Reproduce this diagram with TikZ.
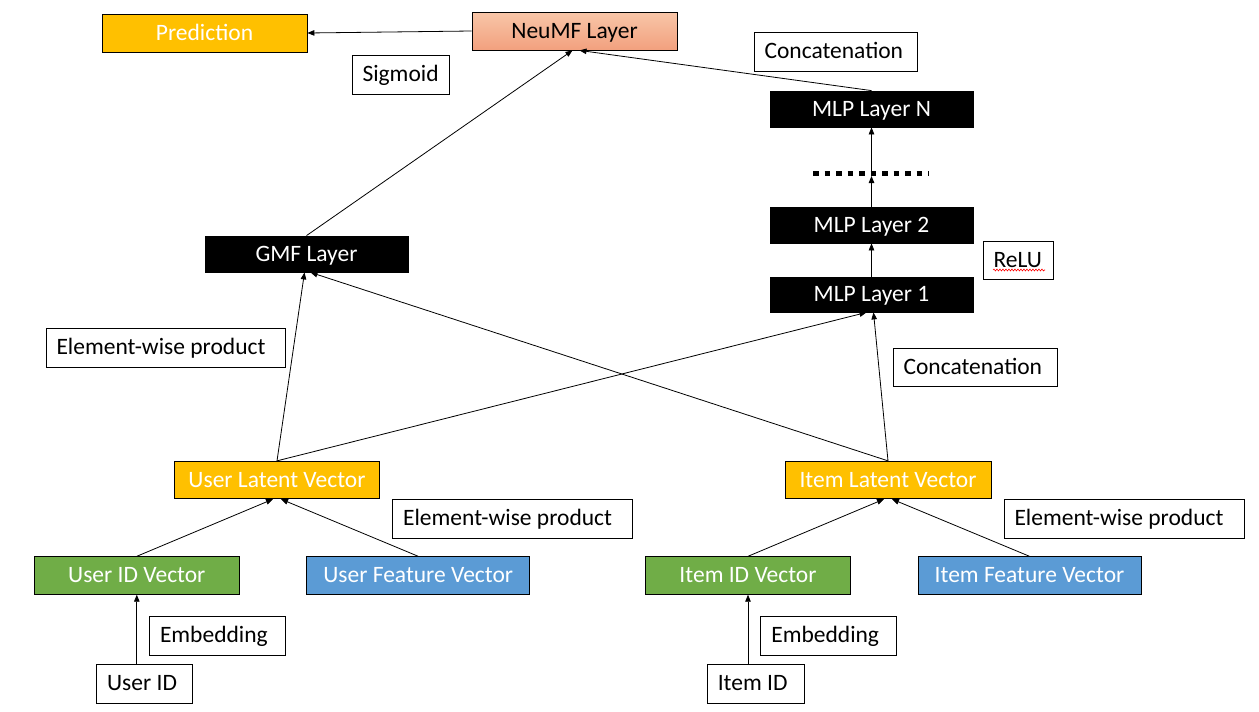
\documentclass[tikz,border=0pt]{standalone}
\usepackage{fontspec}
\setmainfont{Carlito}
\usetikzlibrary{arrows.meta,decorations.pathmorphing,calc}
\definecolor{orng}{HTML}{FFC000}
\definecolor{grn}{HTML}{70AD47}
\definecolor{blu}{HTML}{5B9BD5}
\definecolor{salmonT}{HTML}{F8C6A8}
\definecolor{salmonB}{HTML}{F2A07E}
\begin{document}
\begin{tikzpicture}[x=1pt,y=-1pt,
  font=\fontsize{23.5}{28}\selectfont,
  base/.style={draw=black,line width=0.8pt,inner sep=0pt,text height=17.5pt,text depth=3.5pt,align=center},
  colbox/.style={base,text=white},
  ylw/.style={colbox,fill=orng},
  gbox/.style={colbox,fill=grn},
  bbox/.style={colbox,fill=blu},
  blk/.style={colbox,fill=black},
  nmf/.style={base,top color=salmonT,bottom color=salmonB,text=black},
  lbl/.style={base,fill=white,text=black,inner xsep=10.5pt,align=flush left,text width=#1},
  conn/.style={line width=0.8pt,-{Triangle[length=7pt,width=5.5pt]}},
]
\useasboundingbox (0,0) rectangle (1259,712);
\fill[white] (0,0) rectangle (1259,712);

% top row
\node[ylw,minimum width=205pt,minimum height=38pt] (pred) at (204.5,33) {Prediction};
\node[nmf,minimum width=205pt,minimum height=38pt] (neumf) at (574.5,31) {NeuMF Layer};
\node[lbl=76pt,minimum height=39pt] (sigmoid) at (400.5,74.5) {Sigmoid};
\node[lbl=142pt,minimum height=39pt] (concat1) at (835.5,51.5) {Concatenation};

% MLP tower
\node[blk,minimum width=203pt,minimum height=36pt] (mlpN) at (871.5,109) {MLP Layer N};
\coordinate (dots) at (871.5,173.5);
\draw[line width=5.5pt,dash pattern=on 5.5pt off 6pt] (813,173.5) -- (929,173.5);
\node[blk,minimum width=203pt,minimum height=36pt] (mlp2) at (871.5,225) {MLP Layer 2};
\node[lbl=49pt,minimum height=38pt] (relu) at (1018,260) {ReLU};
\draw[red,line width=0.6pt,decorate,decoration={snake,amplitude=0.9pt,segment length=3pt}] (993,270) -- (1045,270);
\node[blk,minimum width=203pt,minimum height=35pt] (mlp1) at (871.5,294.5) {MLP Layer 1};

% GMF
\node[blk,minimum width=203pt,minimum height=36pt] (gmf) at (306.5,254) {GMF Layer};
\node[lbl=218pt,minimum height=39pt] (ew1) at (165.5,347.5) {Element-wise product};
\node[lbl=143pt,minimum height=38pt] (concat2) at (975,367) {Concatenation};

% latent vectors
\node[ylw,minimum width=205pt,minimum height=37.5pt] (ul) at (277,480) {User Latent Vector};
\node[ylw,minimum width=206pt,minimum height=37.5pt] (il) at (888,480) {Item Latent Vector};
\node[lbl=219pt,minimum height=39pt] (ew2) at (512.6,518.8) {Element-wise product};
\node[lbl=219pt,minimum height=39pt] (ew3) at (1124,518.8) {Element-wise product};

% vectors
\node[gbox,minimum width=205pt,minimum height=37.6pt] (uidv) at (136.8,575.5) {User ID Vector};
\node[bbox,minimum width=223pt,minimum height=37.6pt] (ufv) at (418.2,575.5) {User Feature Vector};
\node[gbox,minimum width=205pt,minimum height=37.6pt] (iidv) at (748,575.5) {Item ID Vector};
\node[bbox,minimum width=223pt,minimum height=37.6pt] (ifv) at (1029.5,575.5) {Item Feature Vector};

% embeddings and ids
\node[lbl=115pt,minimum height=39pt] (emb1) at (217.5,635.6) {Embedding};
\node[lbl=115pt,minimum height=39pt] (emb2) at (828.8,635.6) {Embedding};
\node[lbl=75pt,minimum height=39pt] (uid) at (144.6,683.6) {User ID};
\node[lbl=76pt,minimum height=39pt] (iid) at (755.8,683.6) {Item ID};

% connectors
\draw[conn] (neumf.west) -- (pred.east);
\draw[conn] (gmf.north) -- ([xshift=-2pt]neumf.south);
\draw[conn] (mlpN.north) -- ([xshift=5pt]neumf.south);
\draw[conn] (dots) -- (mlpN.south);
\draw[conn] (mlp2.north) -- ([yshift=-2.5pt]dots);
\draw[conn] (mlp1.north) -- (mlp2.south);
\draw[conn] (ul.north) -- ([xshift=-2pt]gmf.south);
\draw[conn] (il.north) -- ([xshift=4pt]gmf.south);
\draw[conn] (ul.north) -- ([xshift=-5pt]mlp1.south);
\draw[conn] (il.north) -- ([xshift=2pt]mlp1.south);
\draw[conn] (uidv.north) -- ([xshift=-4pt]ul.south);
\draw[conn] (ufv.north) -- ([xshift=4pt]ul.south);
\draw[conn] (iidv.north) -- ([xshift=-4pt]il.south);
\draw[conn] (ifv.north) -- ([xshift=4pt]il.south);
\draw[conn] (uidv.south |- uid.north) -- (uidv.south);
\draw[conn] (iidv.south |- iid.north) -- (iidv.south);
\end{tikzpicture}
\end{document}
